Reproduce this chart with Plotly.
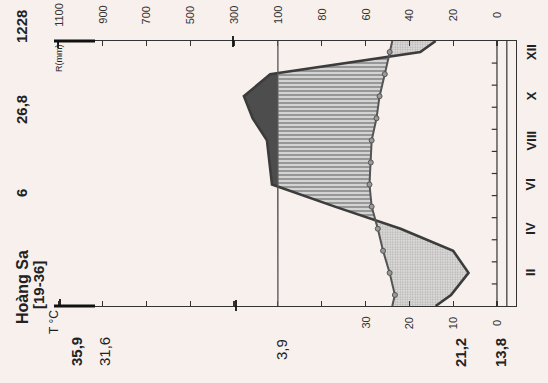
import numpy as np
import plotly.graph_objects as go

# ---------------- data ----------------
months = ["I", "II", "III", "IV", "V", "VI", "VII", "VIII", "IX", "X", "XI", "XII"]
temp_c = [23.3, 24.5, 26.0, 27.2, 28.6, 29.1, 28.8, 28.6, 27.5, 26.8, 25.6, 24.5]
precip_mm = [21, 13, 20, 44, 74, 127, 139, 150, 215, 255, 135, 35]

month_labels = ["II", "IV", "VI", "VIII", "X", "XII"]
precip_ticks = [0, 20, 40, 60, 80, 100, 300, 500, 700, 900, 1100]
temp_ticks = [0, 10, 20, 30]

station = "Hoàng Sa"
period = "[19-36]"
elevation = "6"
mean_temp = "26,8"
annual_precip = "1228"
abs_max = "35,9"
mean_max = "31,6"
daily_range = "3,9"
mean_min = "21,2"
abs_min = "13,8"

# ---------------- helpers ----------------
FONT = "Liberation Sans, Arial, sans-serif"
BG = "#f7f0ed"
INK = "#333333"

def p_scale(p):
    p = np.asarray(p, dtype=float)
    return np.where(p <= 100, p / 2.0, 50 + (p - 100) / 20.0)

# geometry of the plotting area (pixels)
L, R, T, B = 54, 516, 41, 306
X_LEFT, X_RIGHT = 101.1, -4.34
PW, PH = R - L, B - T

def xp(px):
    return (px - L) / PW

def yp(py):
    return (B - py) / PH

# month centres plus wrap-around edges
centers = np.arange(12) + 0.5
yk = np.concatenate([[0.0], centers, [12.0]])
t_arr = np.array(temp_c)
p_arr = np.array(precip_mm, dtype=float)
t_edge = (t_arr[0] + t_arr[-1]) / 2
p_edge = (p_arr[0] + p_arr[-1]) / 2
tk = np.concatenate([[t_edge], t_arr, [t_edge]])
pk = p_scale(np.concatenate([[p_edge], p_arr, [p_edge]]))

yy = np.linspace(0, 12, 2401)
tu = np.interp(yy, yk, tk)
pu = np.interp(yy, yk, pk)

fig = go.Figure()

# dry period (dotted)
dry_left = tu
dry_right = np.minimum(pu, tu)
fig.add_trace(go.Scatter(
    x=np.concatenate([dry_left, dry_right[::-1]]),
    y=np.concatenate([yy, yy[::-1]]),
    fill="toself", mode="lines", line=dict(width=0),
    fillcolor="#d9d6d4",
    fillpattern=dict(shape=".", size=2.5, solidity=0.45, fgcolor="#858585", bgcolor="#e4e1df"),
    hoverinfo="skip", showlegend=False))

# humid period (hatched)
hum_left = np.minimum(np.maximum(pu, tu), 50)
fig.add_trace(go.Scatter(
    x=np.concatenate([hum_left, tu[::-1]]),
    y=np.concatenate([yy, yy[::-1]]),
    fill="toself", mode="lines", line=dict(width=0),
    fillcolor="#777777",
    fillpattern=dict(shape="-", size=4, solidity=0.65, fgcolor="#444444", bgcolor="#ebebeb"),
    hoverinfo="skip", showlegend=False))

# very humid (>100 mm, solid)
wet_left = np.maximum(pu, 50)
fig.add_trace(go.Scatter(
    x=np.concatenate([wet_left, np.full_like(yy, 50)[::-1]]),
    y=np.concatenate([yy, yy[::-1]]),
    fill="toself", mode="lines", line=dict(width=0),
    fillcolor="#4d4d4d", hoverinfo="skip", showlegend=False))

# precipitation line
fig.add_trace(go.Scatter(x=pk, y=yk, mode="lines",
                         line=dict(color="#3c3c3c", width=2.6),
                         hoverinfo="skip", showlegend=False))
# temperature line + markers
fig.add_trace(go.Scatter(x=tk, y=yk, mode="lines",
                         line=dict(color="#555555", width=2),
                         hoverinfo="skip", showlegend=False))
fig.add_trace(go.Scatter(x=t_arr, y=centers, mode="markers",
                         marker=dict(size=5, color="#9a9a9a", line=dict(color="#555555", width=1)),
                         hoverinfo="skip", showlegend=False))

shapes = []
# 100 mm line
shapes.append(dict(type="line", xref="x", yref="y", x0=50, x1=50, y0=0, y1=12,
                   line=dict(color="#555555", width=1.3)))
# zero line and band lines
for xv in [0, -2.25]:
    shapes.append(dict(type="line", xref="x", yref="y", x0=xv, x1=xv, y0=0, y1=12,
                       line=dict(color=INK, width=1.2)))
# month ticks on zero line
for m in range(1, 12):
    shapes.append(dict(type="line", xref="x", yref="y", x0=0, x1=1.2, y0=m, y1=m,
                       line=dict(color=INK, width=1.2)))
# thick axis start segments
for ypos in [1, 0]:
    shapes.append(dict(type="line", xref="paper", yref="paper", x0=0.0, x1=xp(95),
                       y0=ypos, y1=ypos, line=dict(color="#111111", width=3)))
# cross marks at 300 mm and left ends
shapes.append(dict(type="line", xref="paper", yref="paper", x0=xp(233), x1=xp(233),
                   y0=yp(36), y1=yp(47), line=dict(color="#111111", width=1.8)))
shapes.append(dict(type="line", xref="paper", yref="paper", x0=xp(236), x1=xp(236),
                   y0=yp(300), y1=yp(311), line=dict(color="#111111", width=1.8)))
shapes.append(dict(type="line", xref="paper", yref="paper", x0=xp(58), x1=xp(58),
                   y0=yp(41), y1=yp(48), line=dict(color="#111111", width=1.8)))
shapes.append(dict(type="line", xref="paper", yref="paper", x0=xp(60), x1=xp(60),
                   y0=yp(299), y1=yp(306), line=dict(color="#111111", width=1.8)))

ann = []
def rot(text, px, py, size, bold=False, color="#222222"):
    t = f"<b>{text}</b>" if bold else text
    ann.append(dict(text=t, xref="paper", yref="paper", x=xp(px), y=yp(py),
                    xanchor="center", yanchor="middle", showarrow=False, textangle=-90,
                    font=dict(family=FONT, size=size, color=color)))

# precipitation tick labels (top)
for p in precip_ticks:
    ann.append(dict(text=str(p), xref="x", yref="paper", x=float(p_scale(p)), y=yp(15),
                    xanchor="center", yanchor="middle", showarrow=False, textangle=-90,
                    font=dict(family=FONT, size=11, color="#333333")))
# temperature tick labels (bottom)
for t in temp_ticks:
    ann.append(dict(text=str(t), xref="x", yref="paper", x=t, y=yp(323),
                    xanchor="center", yanchor="middle", showarrow=False, textangle=-90,
                    font=dict(family=FONT, size=11, color="#333333")))
# month labels
for lab in month_labels:
    idx = months.index(lab)
    ann.append(dict(text=f"<b>{lab}</b>", xref="paper", yref="y", x=xp(531), y=centers[idx],
                    xanchor="center", yanchor="middle", showarrow=False, textangle=-90,
                    font=dict(family=FONT, size=13, color="#222222")))

rot(annual_precip, 21, 27, 15, True)
rot(mean_temp, 21, 110, 15, True)
rot(elevation, 21, 193, 15, True)
rot(station, 22, 287, 16, True)
rot(period, 38, 285, 15, True)
rot("T °C", 54, 322, 12)
rot("R(mm)", 59, 58, 9)
rot(abs_max, 76, 352, 15, True)
rot(mean_max, 104, 352, 15)
rot(daily_range, 281, 350, 15)
rot(mean_min, 460, 353, 15, True)
rot(abs_min, 500, 353, 15, True)

fig.update_layout(
    width=548, height=383,
    margin=dict(l=L, r=548 - R, t=T, b=383 - B, pad=0),
    paper_bgcolor=BG, plot_bgcolor=BG,
    xaxis=dict(range=[X_LEFT, X_RIGHT], showgrid=False, zeroline=False,
               showline=True, linecolor=INK, linewidth=1.4, mirror="ticks",
               ticks="inside", ticklen=5, tickwidth=1.2, tickcolor=INK,
               tickvals=[float(v) for v in p_scale(precip_ticks)], showticklabels=False),
    yaxis=dict(range=[0, 12], showgrid=False, zeroline=False, side="right",
               showline=True, linecolor=INK, linewidth=1.4, showticklabels=False, ticks=""),
    shapes=shapes, annotations=ann,
)

fig.write_html("out.html", config={"displayModeBar": False, "staticPlot": True},
               post_script="document.body.style.margin='0px';document.body.style.overflow='hidden';document.body.style.background='" + BG + "';")
